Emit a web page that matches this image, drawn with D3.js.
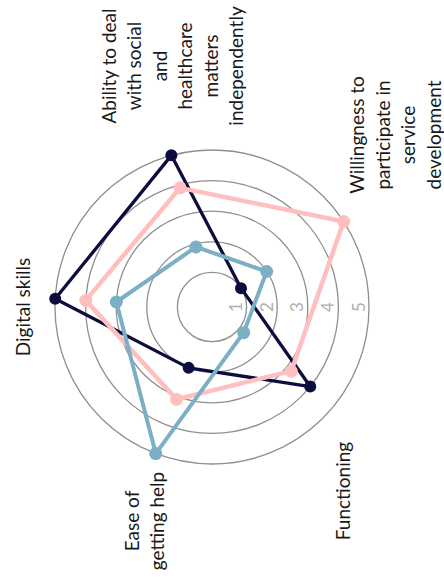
<!DOCTYPE html>
<html>
<head>
<meta charset="utf-8">
<script src="https://cdn.jsdelivr.net/npm/d3@7"></script>
<style>
  body { margin: 0; background: #fff; }
  svg { display: block; }
  text { font-family: Lato, "Open Sans", sans-serif; }
</style>
</head>
<body>
<div id="chart"></div>
<script>
// data
const categories = ["Digital skills", "Ability to deal with social and healthcare matters independently",
  "Willingness to participate in service development", "Functioning", "Ease of getting help"];
const labelLines = [
  ["Digital skills"],
  ["Ability to deal", "with social", "and", "healthcare", "matters", "independently"],
  ["Willingness to", "participate in", "service", "development"],
  ["Functioning"],
  ["Ease of", "getting help"]
];
const ticks = [1, 2, 3, 4, 5];
const darkValues = [5, 5, 1, 4, 2];
const pinkValues = [4, 3.9, 5, 3.2, 3.1];
const blueValues = [3, 1.9, 2, 1.2, 5];

// layout
const width = 444, height = 585;
const cx = 212, cy = 307;
const startAngle = (183 + 90) * Math.PI / 180; // first axis points left (picture is turned 90deg)
const labelAt = [[22, 307], [172, 66], [395, 135], [342, 491], [144, 521]];
const lineH = 25.5;

const series = [
  { values: darkValues, color: "#0c0c3e", width: 3.3, r: 6 },
  { values: pinkValues, color: "#ffbfbf", width: 4.5, r: 6.5 },
  { values: blueValues, color: "#7aafc6", width: 4, r: 6.5 }
];

const svg = d3.select("#chart").append("svg")
  .attr("width", width).attr("height", height);

const g = svg.append("g").attr("transform", `translate(${cx},${cy})`);

const r = d3.scaleLinear().domain([0, 5]).range([4, 157]);
const angle = d3.scaleLinear().domain([0, categories.length]).range([startAngle, startAngle + 2 * Math.PI]);

// rings
g.selectAll("circle.ring")
  .data(ticks)
  .join("circle")
  .attr("class", "ring")
  .attr("r", d => r(d))
  .attr("fill", "none")
  .attr("stroke", "#8f8f8f")
  .attr("stroke-width", 1.3);

// series
const line = d3.lineRadial()
  .angle((d, i) => angle(i))
  .radius(d => r(d))
  .curve(d3.curveLinearClosed);

series.forEach(s => {
  g.append("path")
    .datum(s.values)
    .attr("d", line)
    .attr("fill", "none")
    .attr("stroke", s.color)
    .attr("stroke-width", s.width)
    .attr("stroke-linejoin", "round");

  g.selectAll(null)
    .data(s.values)
    .join("circle")
    .attr("cx", (d, i) => r(d) * Math.sin(angle(i)))
    .attr("cy", (d, i) => -r(d) * Math.cos(angle(i)))
    .attr("r", s.r)
    .attr("fill", s.color);
});

// tick labels, turned like the rest of the picture
g.selectAll("text.tick")
  .data(ticks)
  .join("text")
  .attr("class", "tick")
  .attr("transform", d => `translate(${r(d) - 11},0) rotate(-90)`)
  .attr("text-anchor", "middle")
  .attr("dominant-baseline", "central")
  .attr("fill", "#b0b0b0")
  .attr("font-size", 17)
  .text(d => d);

// category labels
labelLines.forEach((lines, i) => {
  const t = svg.append("text")
    .attr("transform", `translate(${labelAt[i][0]},${labelAt[i][1]}) rotate(-90)`)
    .attr("text-anchor", "middle")
    .attr("fill", "#1a1a1a")
    .attr("font-size", 19);
  lines.forEach((ln, k) => {
    t.append("tspan")
      .attr("x", 0)
      .attr("y", (k - (lines.length - 1) / 2) * lineH)
      .attr("dominant-baseline", "central")
      .text(ln);
  });
});
</script>
</body>
</html>
